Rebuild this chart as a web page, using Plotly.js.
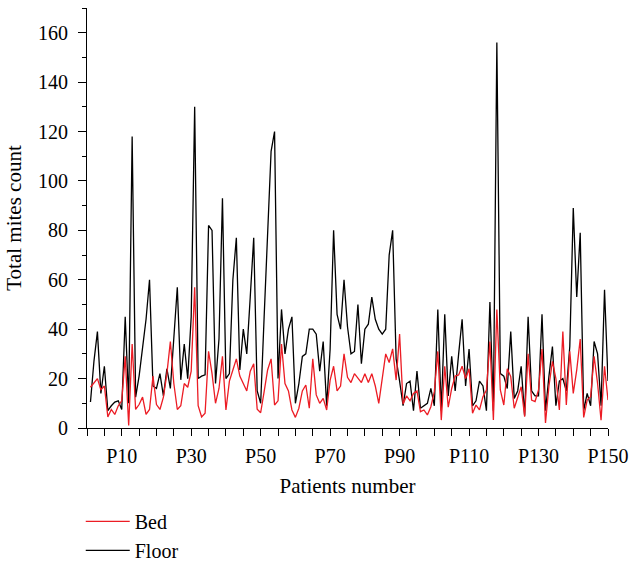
<!DOCTYPE html>
<html>
<head>
<meta charset="utf-8">
<script src="https://cdn.plot.ly/plotly-3.0.1.min.js"></script>
<style>html,body{margin:0;padding:0;background:#fff;}#chart{width:630px;height:561px;}</style>
</head>
<body>
<div id="chart"></div>
<script>
// Floor mites count per patient (P1..P150)
const floorCounts = [
 10.5,27,39,14,25,7,9,10.5,11,7.5,
 45,10,118,12.5,21,33,44,60,17,16,
 22,13,24,16,35,57,19.5,34,20,45,
 130,20,21,21.5,82,80,18,36,93,20,
 22,60,77,23.5,40,30,53,77,15,10,
 45,80,112,120,20,48,30,40,45,10,
 18,29,30,40,40,38,23,35,9,32,
 80,46,40,60,41,30,31,50,26,40,
 42,53,44,40,38,40,70,80,28,19,
 9,18,19,7,23,8,9,10,16,9,
 48,7,46,13,29,15,30,44,17,32,
 9,11,19,17,7,51,7,156,22,21,
 16,39,12,15,25,5,45,15,13,13,
 46,7,21,33,9,19,20,15,33,89,
 53,79,7,14,9,35,30,9,56,19
];
// Bed mites count per patient (P1..P150)
const bedCounts = [
 16.5,18.5,20,15.5,17,4.5,7.5,5.5,9,11,
 29,1,34,7.5,9.5,12.5,5.5,7.5,21,9.5,
 7.5,12.5,22,35,18,7.5,9,18,16.5,23,
 57,9,4.5,6,31,22,10,16,29,7.3,
 19,23.5,28,21,18,15,23,26,7.6,6.2,
 14.7,23.5,28,9.3,11,34,18,15,7.3,4.3,
 8,15,17.4,8,28,13.4,10,12,7.3,19.4,
 25,15,17,30,20.5,18.4,22,20,18.4,22,
 18.4,22,17,10,21,30,26.5,32,19.4,38,
 9.7,13,11,14,15,6.6,7.3,5.3,8.6,14.7,
 31,3.2,25,8.4,16,21,21.5,25,20,24,
 6,9.3,7.3,12.7,15.4,35,3.2,48,15.4,9.3,
 24,20.8,8,12.7,16.7,4.6,30,11.3,10.7,15.4,
 32,2,17,27,20,7.3,39,9.3,31,14,
 23.5,36,4.3,11.3,12.7,29,18,3.2,25,11.3
];
const seriesNames = ["Bed", "Floor"];
const xTickLabels = ["P10","P30","P50","P70","P90","P110","P130","P150"];
const xTickLabelPositions = [10,30,50,70,90,110,130,150];
const yTickLabels = ["0","20","40","60","80","100","120","140","160"];

const patientIndex = floorCounts.map((_, i) => i + 1);
const yTickVals = yTickLabels.map(Number);

const fam = "Liberation Serif, Times New Roman, serif";
const tickFont = {family: fam, size: 20, color: "#000"};
const titleFont = {family: fam, size: 21, color: "#000"};
const legendFont = {family: fam, size: 20, color: "#000"};

const traces = [
  {x: patientIndex, y: floorCounts, name: seriesNames[1], type: "scatter", mode: "lines",
   line: {color: "#000000", width: 1.3}},
  {x: patientIndex, y: bedCounts, name: seriesNames[0], type: "scatter", mode: "lines",
   line: {color: "#ec1c24", width: 1.3}}
];

const layout = {
  width: 630, height: 561,
  margin: {l: 87, r: 22, t: 8, b: 133, autoexpand: false},
  paper_bgcolor: "#fff", plot_bgcolor: "#fff",
  font: tickFont,
  showlegend: true,
  legend: {x: -0.012, xanchor: "left", y: -0.176, yanchor: "top", traceorder: "reversed",
           font: legendFont, bgcolor: "rgba(0,0,0,0)", tracegroupgap: 0, itemwidth: 44},
  xaxis: {
    range: [0, 150], showgrid: false, zeroline: false, showline: true, linecolor: "#000", linewidth: 1,
    ticks: "outside", ticklen: 7, tickwidth: 1, tickcolor: "#000",
    tickmode: "array", tickvals: xTickLabelPositions, ticktext: xTickLabels,
    ticklabelstandoff: 3,
    minor: {dtick: 5, tick0: 0, ticks: "outside", ticklen: 7, tickwidth: 1, tickcolor: "#000", showgrid: false},
    tickfont: tickFont,
    title: {text: "Patients number", font: titleFont, standoff: 12}
  },
  yaxis: {
    range: [0, 170], showgrid: false, zeroline: false, showline: true, linecolor: "#000", linewidth: 1,
    ticks: "outside", ticklen: 8, tickwidth: 1, tickcolor: "#000",
    tickmode: "array", tickvals: yTickVals, ticktext: yTickLabels,
    ticklabelstandoff: 6,
    minor: {dtick: 10, tick0: 0, ticks: "outside", ticklen: 4, tickwidth: 1, tickcolor: "#000", showgrid: false},
    tickfont: tickFont,
    title: {text: "Total mites count", font: titleFont, standoff: 10}
  }
};

Plotly.newPlot("chart", traces, layout, {displayModeBar: false, staticPlot: true});
</script>
</body>
</html>
